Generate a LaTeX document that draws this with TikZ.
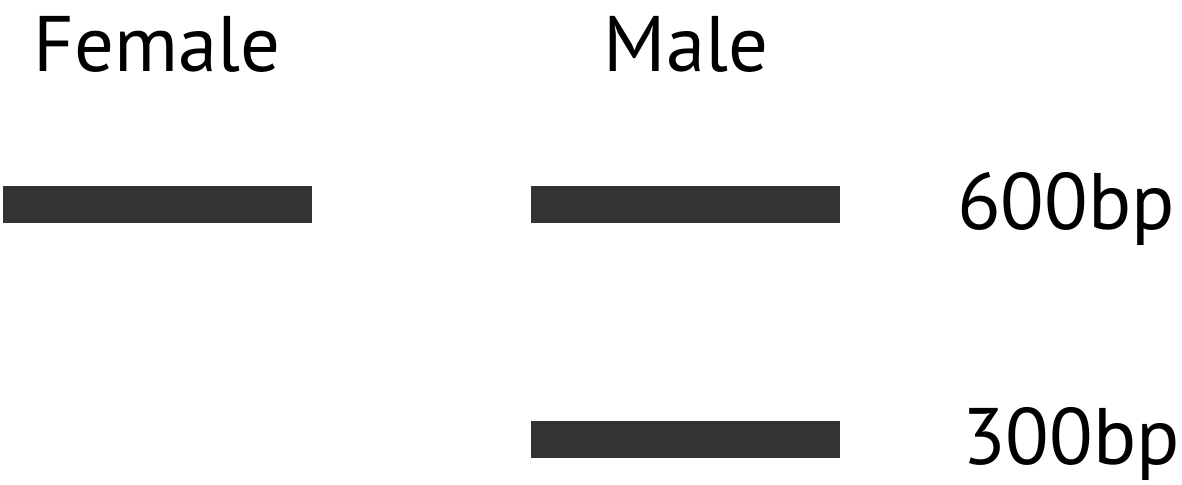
\documentclass[tikz,border=0pt]{standalone}
\usepackage{fontspec}
\setmainfont{PT Sans}
\usetikzlibrary{positioning}
\definecolor{bandgray}{HTML}{333333}
\tikzset{
  bandbox/.style={fill=bandgray, inner sep=0pt, minimum width=7.725cm, minimum height=0.925cm},
  lanelabel/.style={anchor=base, inner sep=0pt, font=\fontsize{56}{66}\selectfont},
  sizelabel/.style={anchor=base west, inner sep=0pt, font=\fontsize{57}{66}\selectfont}
}
\begin{document}
\begin{tikzpicture}[x=0.025cm, y=-0.025cm]
  \useasboundingbox (0,0) rectangle (1182,485);
  % lanes
  \node[lanelabel] (female) at (157,72) {Female};
  \node[lanelabel] (male) at (686,72) {Male};
  % bands
  \node[bandbox] (femaleband) at (157.5,204.5) {};
  \node[bandbox] (maleband600) at (685.5,204.5) {};
  \node[bandbox] (maleband300) at (685.5,439.5) {};
  % sizes
  \node[sizelabel] (size600) at (957,229) {600bp};
  \node[sizelabel] (size300) at (962,464) {300bp};
\end{tikzpicture}
\end{document}
